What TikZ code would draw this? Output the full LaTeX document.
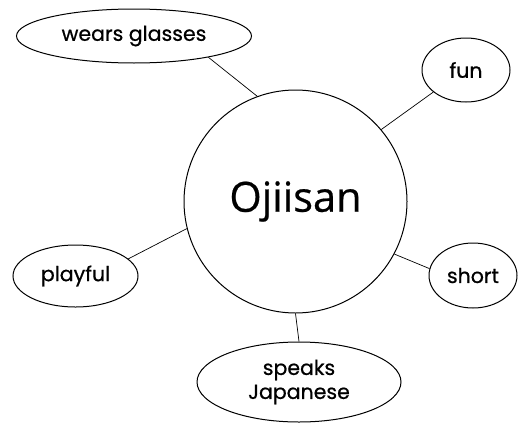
\documentclass[tikz,border=0pt]{standalone}
\usepackage{fontspec}
\newfontfamily\smallfont{Poppins}[FakeBold=0.7]
\newfontfamily\bigfont{Open Sans}[FakeBold=0.5]
\usetikzlibrary{shapes.geometric}
\begin{document}
\begin{tikzpicture}[x=1pt,y=-1pt,
  bubble/.style={draw, ellipse, line width=1pt, inner sep=0pt, font=\smallfont\fontsize{20.5}{24}\selectfont, align=center},
  hub/.style={draw, circle, line width=1pt, inner sep=0pt, minimum size=223pt, font=\bigfont\fontsize{41.5}{48}\selectfont},
  link/.style={line width=0.7pt}]
\useasboundingbox (0,0) rectangle (518,423);
\node[hub] (c) at (295.5,201.5) {Ojiisan};
\node[bubble, minimum width=235pt, minimum height=54pt] (g) at (134,36) {wears glasses};
\node[bubble, minimum width=88pt, minimum height=64pt] (f) at (466,70) {fun};
\node[bubble, minimum width=125pt, minimum height=62pt] (p) at (75.5,276) {playful};
\node[bubble, minimum width=88pt, minimum height=65pt] (s) at (473,275.5) {short};
\node[bubble, minimum width=204pt, minimum height=80pt] (j) at (299,382) {speaks\\Japanese};
\draw[link] (c.110.5) -- (g.-16.6);
\draw[link] (c.40.7) -- (f.214);
\draw[link] (c.194.7) -- (p.18.9);
\draw[link] (c.-28.3) -- (s.171.6);
\draw[link] (c.270) -- (j.90);
\end{tikzpicture}
\end{document}
